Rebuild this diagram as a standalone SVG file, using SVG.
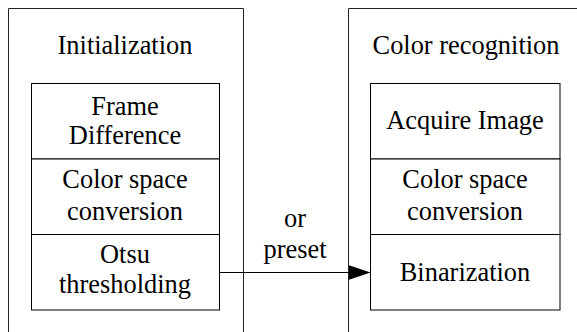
<svg xmlns="http://www.w3.org/2000/svg" width="577" height="332" viewBox="0 0 577 332">
<defs>
<style>
.outer{fill:none;stroke:#222;stroke-width:1}
.box{fill:#fff;stroke:#000;stroke-width:1}
.t{font-size:26.4px;fill:#000;text-anchor:middle;font-family:'Liberation Serif','Times New Roman',serif}
.conn{fill:none;stroke:#000;stroke-width:1}
</style>
<marker id="arr" markerWidth="22" markerHeight="15" refX="22" refY="7.5" orient="auto" markerUnits="userSpaceOnUse">
<path d="M0,0 L22,7.5 L0,15 Z" fill="#000"/>
</marker>
</defs>
<g id="initialization">
<path class="outer" d="M8.5 332 V8.5 H243.5 V332"/>
<text class="t" x="125" y="54">Initialization</text>
<g id="frame-difference">
<rect class="box" x="31.5" y="83.5" width="188" height="75.5"/>
<text class="t" x="125" y="115">Frame</text>
<text class="t" x="125" y="144">Difference</text>
</g>
<g id="color-space-left">
<rect class="box" x="31.5" y="159" width="188" height="75.5"/>
<text class="t" x="125" y="188">Color space</text>
<text class="t" x="125" y="220">conversion</text>
</g>
<g id="otsu">
<rect class="box" x="31.5" y="234.5" width="188" height="75.5"/>
<text class="t" x="125" y="263">Otsu</text>
<text class="t" x="125" y="293">thresholding</text>
</g>
</g>
<g id="color-recognition">
<path class="outer" d="M348.5 332 V8.5 H577"/>
<text class="t" x="466" y="54">Color recognition</text>
<g id="acquire-image">
<rect class="box" x="370.5" y="83.5" width="189.5" height="75.5"/>
<text class="t" x="465" y="129">Acquire Image</text>
</g>
<g id="color-space-right">
<rect class="box" x="370.5" y="159" width="189.5" height="75.5"/>
<text class="t" x="465" y="188">Color space</text>
<text class="t" x="465" y="220">conversion</text>
</g>
<g id="binarization">
<rect class="box" x="370.5" y="234.5" width="189.5" height="75.5"/>
<text class="t" x="465" y="281">Binarization</text>
</g>
</g>
<g id="connectors">
<line class="conn" x1="219.5" y1="272.5" x2="370.5" y2="272.5" marker-end="url(#arr)"/>
<text class="t" x="295" y="227">or</text>
<text class="t" x="295" y="258">preset</text>
</g>
</svg>
